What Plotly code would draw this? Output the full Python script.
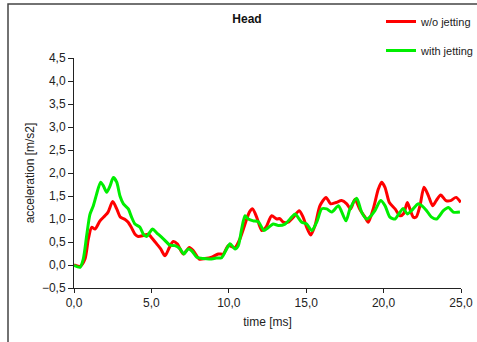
import plotly.graph_objects as go

# ---- data ----
t_wo = [0.0, 0.39, 0.71, 0.93, 1.14, 1.36, 1.68, 2.0, 2.2, 2.5, 2.76, 3.0, 3.3, 3.5, 3.7, 3.94, 4.15, 4.48, 4.8, 5.0,
        5.34, 5.6, 5.88, 6.16, 6.41, 6.67, 7.06, 7.45, 7.71, 8.09, 8.46, 8.9, 9.32, 9.65, 9.97, 10.4, 10.72, 11.05,
        11.33, 11.54, 11.8, 12.13, 12.4, 12.77, 13.1, 13.3, 13.52, 13.84, 14.17, 14.55, 14.8, 15.03, 15.29, 15.57,
        15.89, 16.28, 16.58, 16.93, 17.29, 17.62, 17.87, 18.15, 18.48, 18.8, 19.01, 19.33, 19.66, 19.87, 20.09,
        20.37, 20.74, 21.06, 21.3, 21.53, 21.7, 21.92, 22.1, 22.35, 22.61, 22.89, 23.17, 23.4, 23.69, 24.03, 24.33,
        24.68, 24.98]
a_wo = [0.0, -0.03, 0.13, 0.57, 0.82, 0.78, 0.96, 1.07, 1.15, 1.38, 1.22, 1.04, 0.99, 0.93, 0.82, 0.67, 0.62, 0.64,
        0.67, 0.6, 0.46, 0.35, 0.2, 0.38, 0.51, 0.46, 0.24, 0.38, 0.31, 0.13, 0.14, 0.17, 0.24, 0.24, 0.42, 0.38,
        0.57, 0.89, 1.15, 1.22, 1.04, 0.75, 0.82, 1.07, 1.0, 1.01, 0.93, 0.93, 1.04, 1.18, 1.04, 0.82, 0.65, 0.86,
        1.29, 1.47, 1.33, 1.36, 1.4, 1.33, 1.22, 1.43, 1.2, 1.04, 0.93, 1.22, 1.65, 1.8, 1.69, 1.36, 1.22, 1.07,
        1.12, 1.36, 1.22, 1.04, 1.04, 1.29, 1.69, 1.51, 1.29, 1.4, 1.52, 1.4, 1.4, 1.47, 1.36]

t_with = [0.0, 0.39, 0.6, 0.82, 1.03, 1.25, 1.46, 1.72, 1.9, 2.11, 2.33, 2.54, 2.76, 2.97, 3.19, 3.51, 3.72, 3.94,
          4.26, 4.48, 4.69, 4.87, 5.08, 5.34, 5.77, 6.2, 6.52, 6.85, 7.1, 7.38, 7.6, 7.93, 8.35, 8.79, 9.2, 9.54,
          9.86, 10.08, 10.4, 10.61, 10.83, 11.05, 11.26, 11.58, 11.9, 12.27, 12.5, 12.87, 13.2, 13.63, 14.06, 14.28,
          14.71, 15.03, 15.36, 15.7, 16.0, 16.32, 16.65, 17.08, 17.3, 17.57, 17.83, 18.26, 18.58, 18.9, 19.1, 19.44,
          19.81, 20.09, 20.41, 20.74, 21.0, 21.27, 21.53, 21.8, 22.24, 22.5, 22.78, 23.1, 23.43, 23.86, 24.19, 24.5,
          24.93]
a_with = [-0.01, -0.05, 0.13, 0.64, 1.1, 1.29, 1.54, 1.8, 1.72, 1.58, 1.72, 1.9, 1.8, 1.5, 1.33, 1.22, 1.04, 0.89,
          0.82, 0.67, 0.62, 0.7, 0.78, 0.7, 0.57, 0.43, 0.42, 0.35, 0.24, 0.35, 0.31, 0.17, 0.14, 0.13, 0.15, 0.16,
          0.35, 0.46, 0.35, 0.42, 0.78, 1.07, 1.0, 0.96, 0.94, 0.75, 0.8, 0.89, 0.86, 0.89, 1.04, 1.11, 0.93, 0.89,
          0.75, 0.95, 1.22, 1.22, 1.15, 1.29, 1.15, 0.96, 1.22, 1.45, 1.15, 1.0, 1.04, 1.18, 1.4, 1.29, 1.04, 1.0,
          1.12, 1.23, 1.11, 1.18, 1.33, 1.28, 1.18, 1.04, 1.0, 1.18, 1.25, 1.15, 1.15]

x_ticks = [0, 5, 10, 15, 20, 25]
y_ticks = [-0.5, 0, 0.5, 1, 1.5, 2, 2.5, 3, 3.5, 4, 4.5]

FONT = "Liberation Sans, Arial, sans-serif"

fig = go.Figure()
fig.add_trace(go.Scatter(x=t_wo, y=a_wo, mode="lines", name="w/o jetting", legendgroup="a",
                         line=dict(color="#ff0000", width=3, shape="spline", smoothing=0.7)))
fig.add_trace(go.Scatter(x=t_with, y=a_with, mode="lines", name="with jetting", legendgroup="b",
                         line=dict(color="#00ee00", width=3, shape="spline", smoothing=0.7)))

W, H = 477, 342
X0, X1, Y0, Y1 = 74, 461, 58, 288   # plot area in pixels


def fx(x):
    return x / W


def fy(y):
    return 1 - y / H


fig.add_shape(type="rect", xref="paper", yref="paper",
              x0=fx(8), x1=fx(490), y0=fy(4), y1=fy(360),
              line=dict(color="#444", width=1.5), fillcolor="rgba(0,0,0,0)", layer="below")

fig.update_layout(
    width=W, height=H,
    margin=dict(l=0, r=0, t=0, b=0, autoexpand=False),
    paper_bgcolor="white", plot_bgcolor="white",
    separators=",.",
    font=dict(family=FONT, color="#222", size=12),
    title=dict(text="<b>Head</b>", x=fx(247), xanchor="center", y=fy(19), yanchor="middle",
               font=dict(size=12, family=FONT, color="#111")),
    showlegend=True,
    legend=dict(x=fx(381), xanchor="left", y=fy(7), yanchor="top",
                traceorder="grouped", tracegroupgap=10, itemwidth=30,
                font=dict(size=11, family=FONT, color="#222"), bgcolor="rgba(0,0,0,0)"),
    xaxis=dict(domain=[fx(X0), fx(X1)], range=[0, 25], tickvals=x_ticks, tickformat=".1f",
               showgrid=False, zeroline=False,
               showline=True, linecolor="#222", linewidth=1, ticks="outside", ticklen=4, tickcolor="#222",
               title=dict(text="time [ms]", font=dict(size=12, family=FONT), standoff=8),
               tickfont=dict(size=12, family=FONT)),
    yaxis=dict(domain=[fy(Y1), fy(Y0)], range=[-0.5, 4.5], tickvals=y_ticks, tickformat=".1f",
               showgrid=False, zeroline=False,
               showline=True, linecolor="#222", linewidth=1, ticks="outside", ticklen=5, tickcolor="#222",
               title=dict(text="acceleration [m/s2]", font=dict(size=12, family=FONT), standoff=4),
               tickfont=dict(size=12, family=FONT)),
)

fig.write_html("out.html", config={"displayModeBar": False},
               post_script="document.body.style.margin='0';document.body.style.overflow='hidden';")
